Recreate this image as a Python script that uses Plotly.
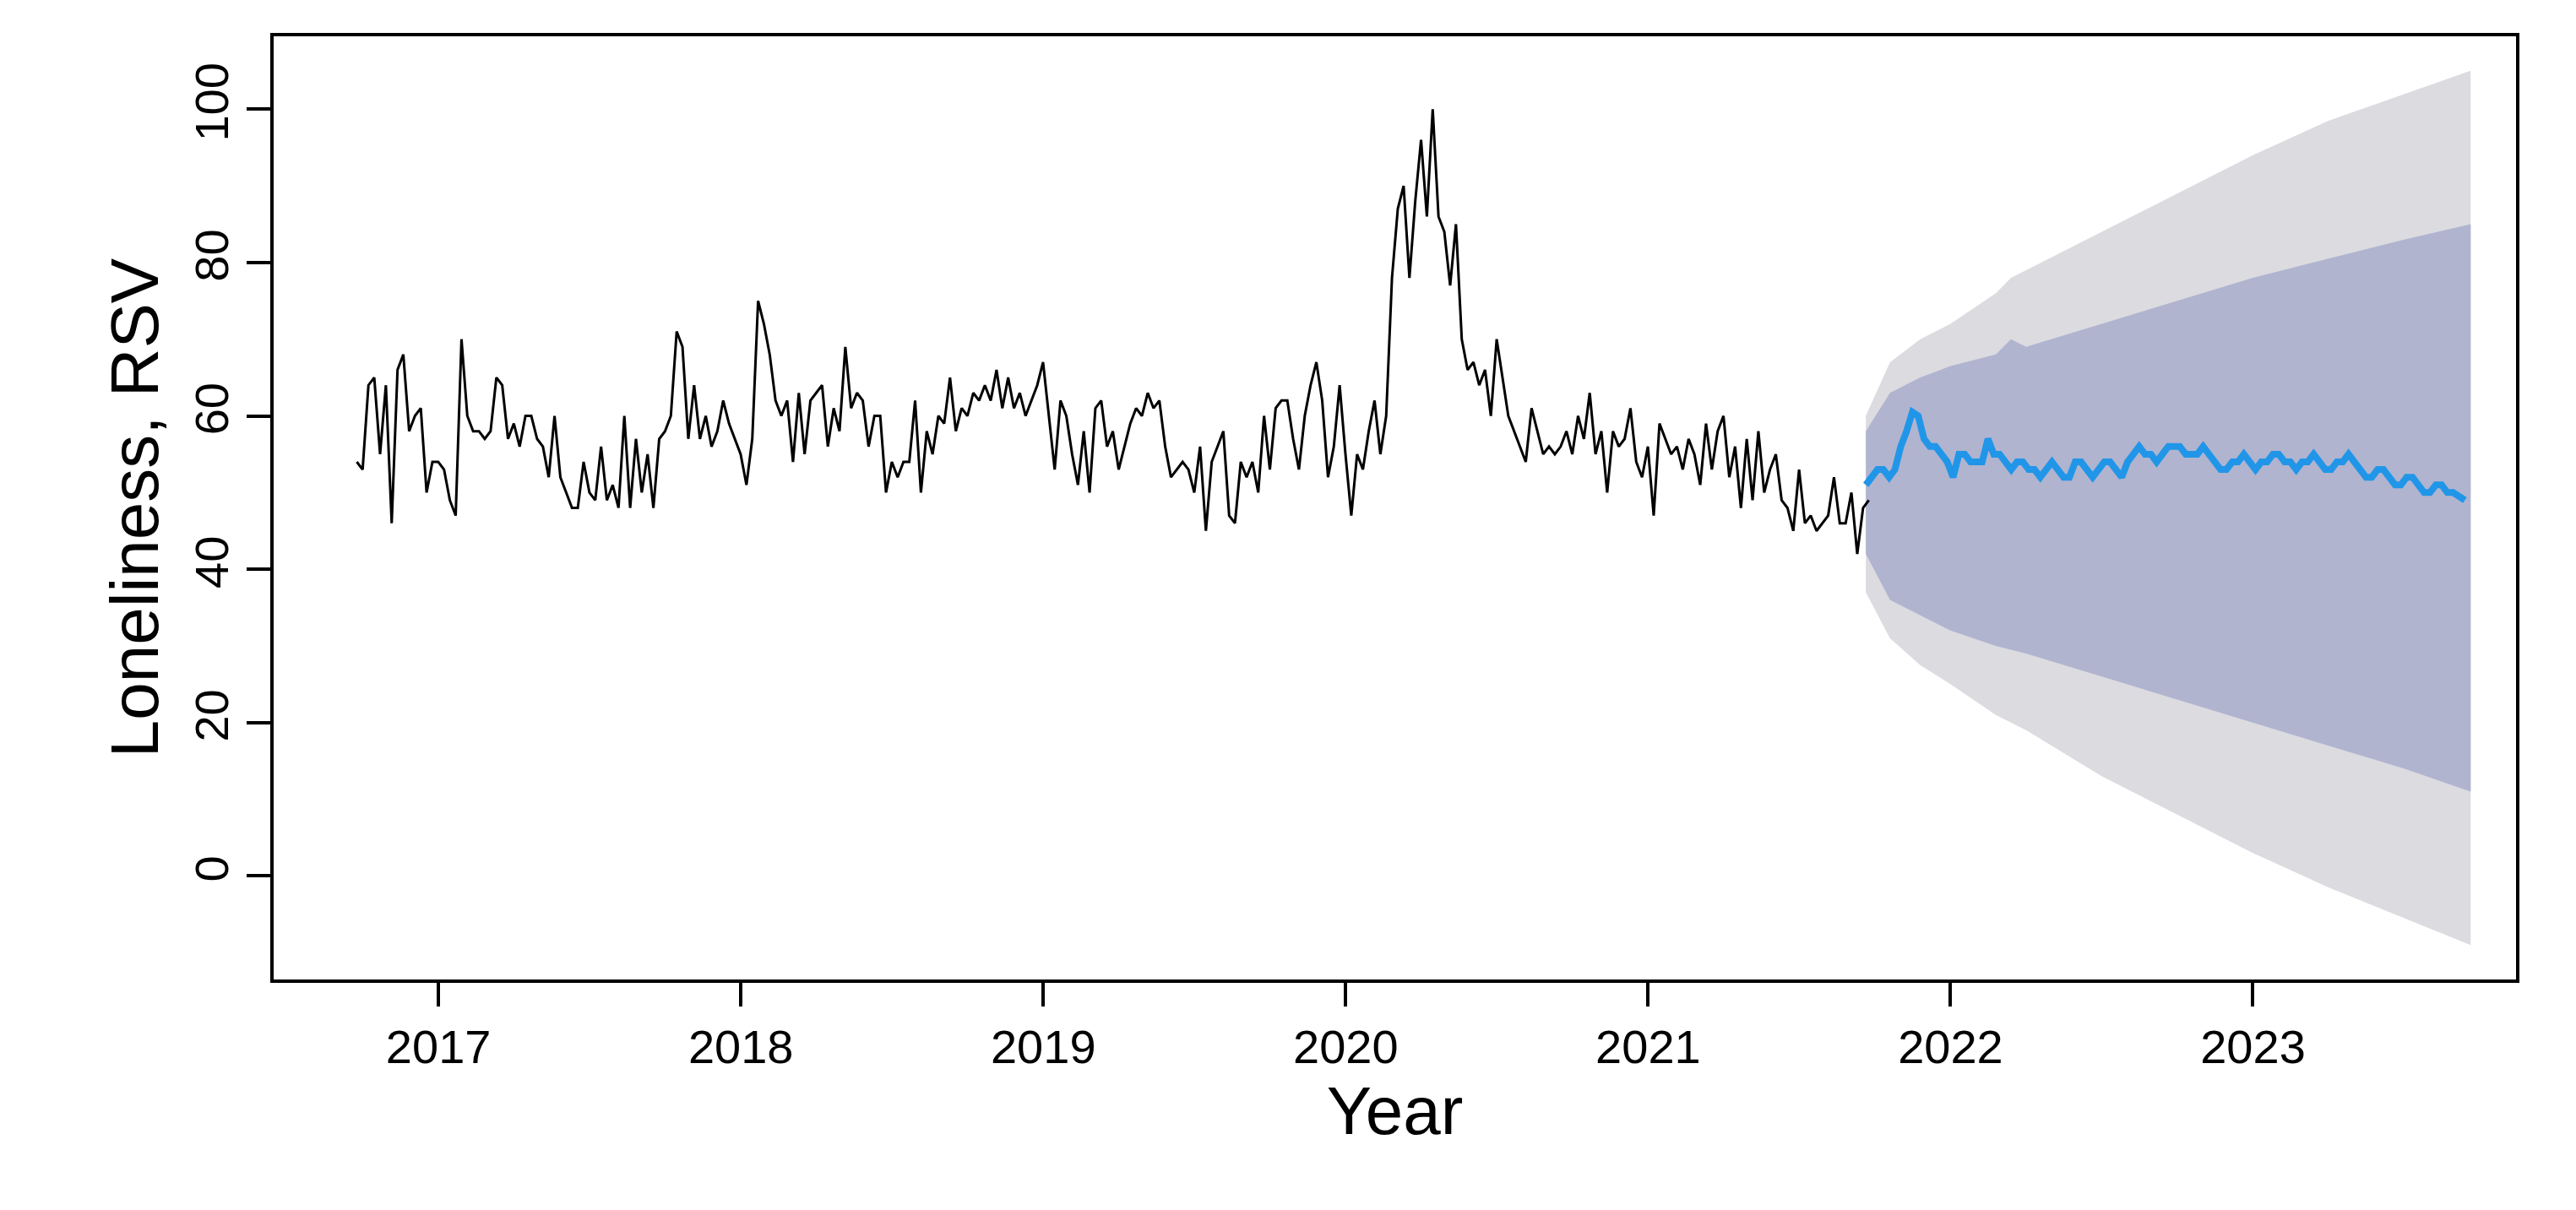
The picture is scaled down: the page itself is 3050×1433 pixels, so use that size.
import numpy as np
import plotly.graph_objects as go

hist_start = 2016.73
hist_vals = [54,53,64,65,55,64,46,66,68,58,60,61,50,54,
 54,53,49,47,70,60,58,58,57,58,65,64,57,59,56,60,60,57,56,52,60,52,50,48,48,54,50,49,56,49,51,48,60,48,57,50,55,48,57,58,60,71,69,57,64,57,60,56,58,62,59,57,
 55,51,57,75,72,68,62,60,62,54,63,55,62,63,64,56,61,58,69,61,63,62,56,60,60,50,54,52,54,54,62,50,58,55,60,59,65,58,61,60,63,62,64,62,66,61,65,61,63,60,62,64,
 67,60,53,62,60,55,51,58,50,61,62,56,58,53,56,59,61,60,63,61,62,56,52,53,54,53,50,56,45,54,56,58,47,46,54,52,54,50,60,53,61,62,62,57,53,60,64,67,62,52,56,64,
 55,47,55,53,58,62,55,60,78,87,90,78,88,96,86,100,86,84,77,85,70,66,67,64,66,60,70,65,60,58,56,54,61,58,55,56,55,56,58,55,60,57,63,55,58,50,58,56,57,61,54,52,
 56,47,59,57,55,56,53,57,55,51,59,53,58,60,52,56,48,57,49,58,50,53,55,49,48,45,53,46,47,45,46,47,52,46,46,50,42,48,49]

fc_start = 2021.72
fc_vals = [51,52,53,53,52,53,56,58,60.5,60,57,56,56,55,54,52,55,55,54,54,54,57,55,55,54,53,54,54,53,53,52,53,54,53,52,52,54,54,53,52,53,54,54,53,52,54,55,56,55,55,54,55,56,56,56,55,55,55,56,55,54,53,53,54,54,55,54,53,54,54,55,55,54,54,53,54,54,55,54,53,53,54,54,55,54,53,52,52,53,53,52,51,51,52,52,51,50,50,51,51,50,50,49.5,49]

band_t = [2021.72, 2021.8, 2021.9, 2022.0, 2022.15, 2022.2, 2022.25, 2022.5, 2022.75, 2023.0, 2023.25, 2023.5, 2023.72]
up80 = [58, 63, 65, 66.5, 68, 70, 69, 72, 75, 78, 80.5, 83, 85]
lo80 = [42, 36, 34, 32, 30, 29.5, 29, 26, 23, 20, 17, 14, 11]
up95 = [60, 67, 70, 72, 76, 78, 79, 84, 89, 94, 98.5, 102, 105]
lo95 = [37, 31, 27.5, 25, 21, 20, 19, 13, 8, 3, -1.5, -5.5, -9]

hx = [hist_start + i/52 for i in range(len(hist_vals))]
fx = [fc_start + i/52 for i in range(len(fc_vals))]

fig = go.Figure()
fig.add_trace(go.Scatter(x=band_t + band_t[::-1], y=up95 + lo95[::-1], fill="toself",
    fillcolor="#DBDBE0", line=dict(width=0), mode="lines", hoverinfo="skip"))
fig.add_trace(go.Scatter(x=band_t + band_t[::-1], y=up80 + lo80[::-1], fill="toself",
    fillcolor="#B0B4CF", line=dict(width=0), mode="lines", hoverinfo="skip"))
fig.add_trace(go.Scatter(x=hx, y=hist_vals, mode="lines", line=dict(color="black", width=3)))
fig.add_trace(go.Scatter(x=fx, y=fc_vals, mode="lines", line=dict(color="#2196E8", width=8)))

fnt = "Liberation Sans, Arial, sans-serif"
fig.update_layout(width=3050, height=1433, plot_bgcolor="white", paper_bgcolor="white",
    showlegend=False, margin=dict(l=316, r=79, t=35, b=281),
    font=dict(family=fnt, color="black"))
fig.update_xaxes(range=[2016.455, 2023.87], tickvals=[2017,2018,2019,2020,2021,2022,2023],
    ticktext=["2017","2018","2019","2020","2021","2022","2023"],
    showline=True, linecolor="black", linewidth=4, mirror=True, ticks="outside",
    ticklen=28, tickwidth=4, tickcolor="black", showgrid=False, zeroline=False,
    tickfont=dict(size=56), title=dict(text="Year", font=dict(size=80), standoff=4))
fig.update_yaxes(range=[-13.5, 109.5], tickvals=[0,20,40,60,80,100], tickangle=-90,
    showline=True, linecolor="black", linewidth=4, mirror=True, ticks="outside",
    ticklen=28, tickwidth=4, tickcolor="black", showgrid=False, zeroline=False,
    tickfont=dict(size=56), title=dict(text="Loneliness, RSV", font=dict(size=80), standoff=6))
fig.write_html("out.html")
